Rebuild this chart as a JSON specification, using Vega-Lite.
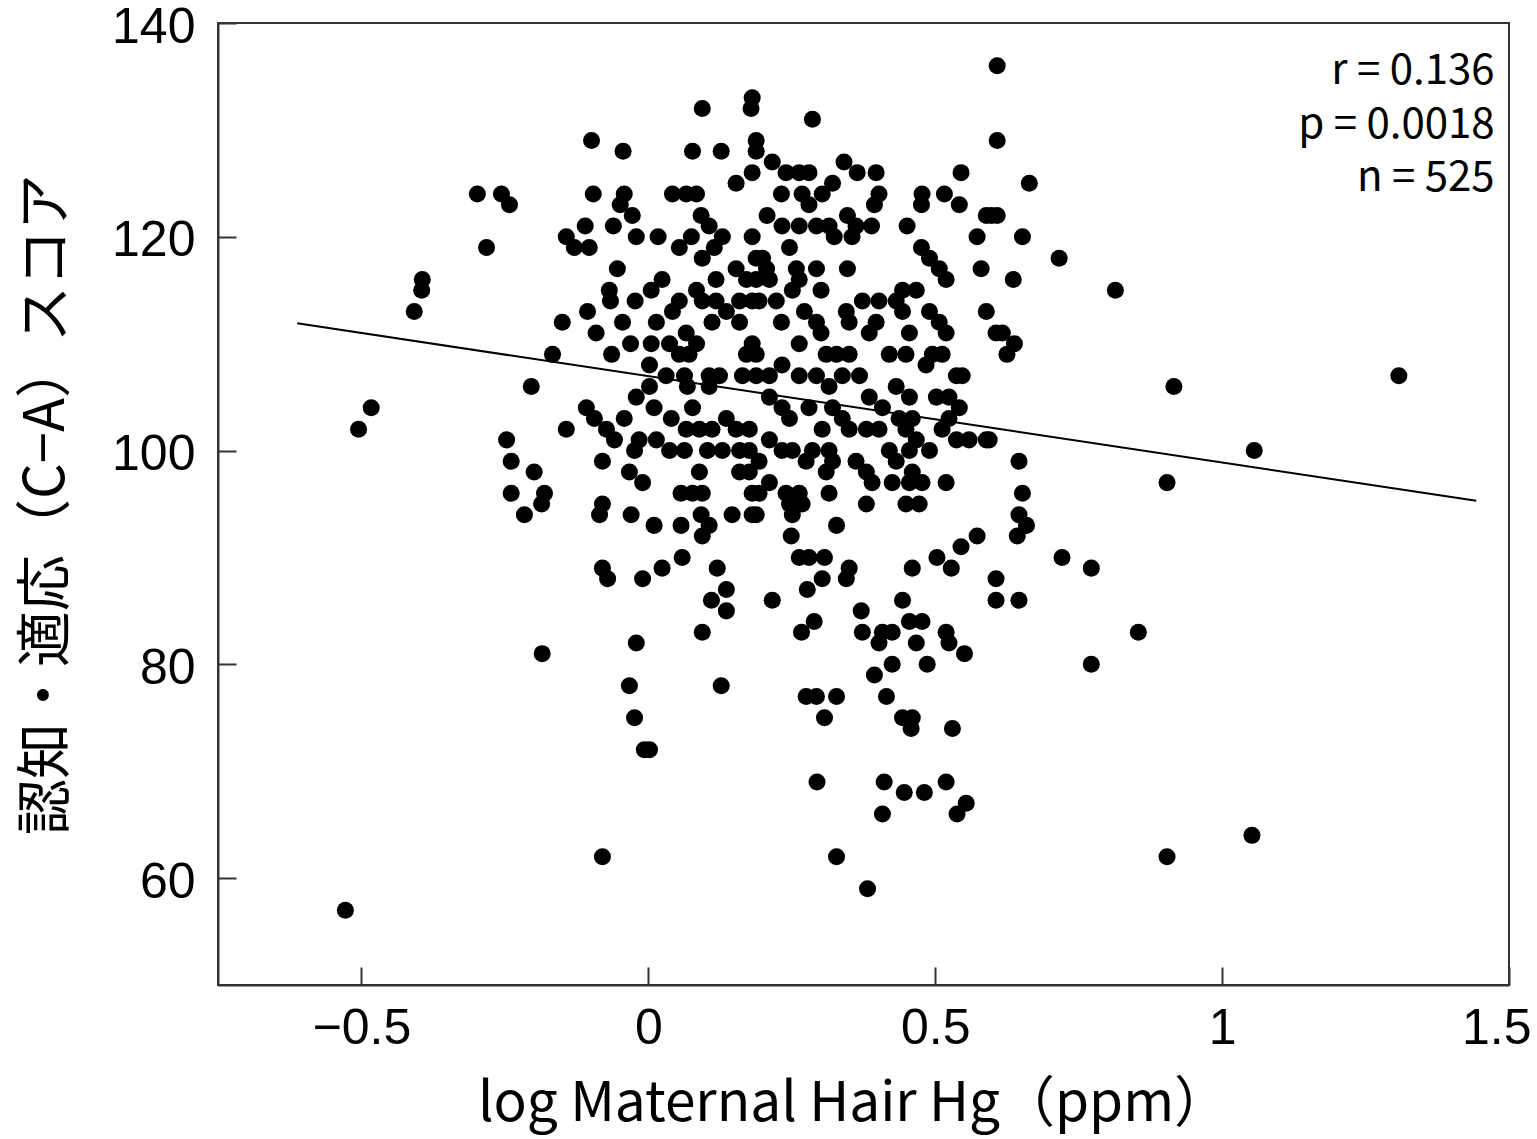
{
  "$schema": "https://vega.github.io/schema/vega-lite/v6.json",
  "autosize": "none",
  "width": 1291,
  "height": 962,
  "padding": {"left": 218, "top": 23, "right": 28, "bottom": 154},
  "background": "white",
  "config": {
    "view": {"stroke": "#333", "strokeWidth": 2},
    "axis": {
      "domainColor": "#333", "domainWidth": 2,
      "tickColor": "#333", "tickWidth": 2, "tickSize": -18,
      "grid": false,
      "labelFont": "Liberation Sans", "labelFontSize": 50, "labelColor": "#000",
      "titleFont": "Noto Sans CJK JP", "titleFontWeight": "normal", "titleColor": "#000"
    }
  },
  "datasets": {
    "pts": [
      {"hg":-0.528,"score":57},{"hg":-0.505,"score":102},{"hg":-0.483,"score":104},{"hg":-0.408,"score":113},{"hg":-0.395,"score":115},{"hg":-0.394,"score":116},{"hg":-0.298,"score":124},{"hg":-0.282,"score":119},{"hg":-0.256,"score":124},{"hg":-0.242,"score":123},
      {"hg":-0.247,"score":101},{"hg":-0.239,"score":99},{"hg":-0.239,"score":96},{"hg":-0.216,"score":94},{"hg":-0.204,"score":106},{"hg":-0.199,"score":98},{"hg":-0.185,"score":81},{"hg":-0.181,"score":96},{"hg":-0.186,"score":95},{"hg":-0.167,"score":109},
      {"hg":0.094,"score":132},{"hg":0.181,"score":133},{"hg":0.179,"score":132},{"hg":-0.099,"score":129},{"hg":-0.044,"score":128},{"hg":0.077,"score":128},{"hg":0.127,"score":128},{"hg":0.188,"score":129},{"hg":0.188,"score":128},{"hg":0.181,"score":126},
      {"hg":0.153,"score":125},{"hg":-0.096,"score":124},{"hg":-0.042,"score":124},{"hg":-0.049,"score":123},{"hg":-0.028,"score":122},{"hg":0.042,"score":124},{"hg":0.066,"score":124},{"hg":0.084,"score":124},{"hg":0.092,"score":122},{"hg":-0.110,"score":121},
      {"hg":-0.061,"score":121},{"hg":-0.143,"score":120},{"hg":-0.129,"score":119},{"hg":-0.103,"score":119},{"hg":-0.021,"score":120},{"hg":0.017,"score":120},{"hg":0.054,"score":119},{"hg":0.075,"score":120},{"hg":0.106,"score":121},{"hg":0.129,"score":120},
      {"hg":0.094,"score":118},{"hg":0.115,"score":119},{"hg":0.181,"score":120},{"hg":0.188,"score":118},{"hg":-0.054,"score":117},{"hg":0.118,"score":116},{"hg":0.153,"score":117},{"hg":0.171,"score":116},{"hg":0.024,"score":116},{"hg":0.005,"score":115},
      {"hg":-0.068,"score":115},{"hg":-0.066,"score":114},{"hg":-0.023,"score":114},{"hg":-0.106,"score":113},{"hg":0.084,"score":115},{"hg":0.054,"score":114},{"hg":0.042,"score":113},{"hg":0.094,"score":114},{"hg":0.118,"score":114},{"hg":0.136,"score":113},
      {"hg":0.159,"score":114},{"hg":0.181,"score":114},{"hg":-0.150,"score":112},{"hg":-0.045,"score":112},{"hg":0.014,"score":112},
      {"hg":-0.091,"score":111},{"hg":-0.031,"score":110},{"hg":0.005,"score":110},{"hg":0.037,"score":110},{"hg":0.066,"score":111},{"hg":0.084,"score":110},{"hg":0.054,"score":109},{"hg":0.071,"score":109},{"hg":0.111,"score":112},{"hg":0.159,"score":112},
      {"hg":0.171,"score":109},{"hg":0.181,"score":110},{"hg":-0.064,"score":109},{"hg":0.002,"score":108},{"hg":0.031,"score":107},{"hg":0.063,"score":107},{"hg":0.068,"score":106},{"hg":0.106,"score":107},{"hg":0.124,"score":107},{"hg":0.106,"score":106},
      {"hg":0.164,"score":107},{"hg":0.188,"score":107},{"hg":0.002,"score":106},{"hg":-0.021,"score":105},{"hg":0.010,"score":104},{"hg":0.077,"score":104},{"hg":-0.108,"score":104},{"hg":0.040,"score":103},{"hg":-0.094,"score":103},{"hg":-0.073,"score":102},
      {"hg":-0.059,"score":101},{"hg":-0.042,"score":103},{"hg":-0.143,"score":102},{"hg":0.066,"score":102},{"hg":0.089,"score":102},{"hg":0.111,"score":102},{"hg":0.136,"score":103},{"hg":0.153,"score":102},{"hg":0.176,"score":102},{"hg":-0.016,"score":101},
      {"hg":0.014,"score":101},{"hg":0.037,"score":100},{"hg":0.063,"score":100},{"hg":-0.024,"score":100},{"hg":0.103,"score":100},{"hg":0.129,"score":100},{"hg":0.159,"score":100},{"hg":0.176,"score":100},{"hg":-0.080,"score":99},{"hg":-0.033,"score":98},
      {"hg":-0.010,"score":97},{"hg":0.089,"score":98},{"hg":0.159,"score":98},{"hg":0.176,"score":98},{"hg":0.057,"score":96},{"hg":0.077,"score":96},{"hg":0.094,"score":96},{"hg":0.181,"score":96},{"hg":-0.080,"score":95},{"hg":-0.085,"score":94},
      {"hg":-0.030,"score":94},{"hg":0.010,"score":93},{"hg":0.057,"score":93},{"hg":0.092,"score":94},{"hg":0.106,"score":93},{"hg":0.094,"score":92},{"hg":0.146,"score":94},{"hg":0.181,"score":94},{"hg":0.059,"score":90},
      {"hg":-0.080,"score":89},{"hg":-0.071,"score":88},{"hg":-0.010,"score":88},{"hg":0.024,"score":89},{"hg":0.120,"score":89},{"hg":0.136,"score":87},{"hg":0.110,"score":86},{"hg":0.136,"score":85},{"hg":0.094,"score":83},{"hg":-0.021,"score":82},
      {"hg":-0.033,"score":78},{"hg":0.127,"score":78},{"hg":-0.024,"score":75},{"hg":-0.007,"score":72},{"hg":0.002,"score":72},{"hg":-0.080,"score":62},
      {"hg":0.608,"score":136},{"hg":0.286,"score":131},{"hg":0.608,"score":129},{"hg":0.216,"score":127},{"hg":0.341,"score":127},{"hg":0.240,"score":126},{"hg":0.263,"score":126},{"hg":0.280,"score":126},{"hg":0.321,"score":125},{"hg":0.364,"score":126},
      {"hg":0.397,"score":126},{"hg":0.545,"score":126},{"hg":0.232,"score":124},{"hg":0.268,"score":124},{"hg":0.280,"score":123},{"hg":0.303,"score":124},{"hg":0.402,"score":124},{"hg":0.394,"score":123},{"hg":0.477,"score":124},{"hg":0.476,"score":123},
      {"hg":0.516,"score":124},{"hg":0.542,"score":123},{"hg":0.207,"score":122},{"hg":0.233,"score":121},{"hg":0.263,"score":121},{"hg":0.293,"score":121},{"hg":0.315,"score":121},{"hg":0.347,"score":122},{"hg":0.362,"score":121},{"hg":0.389,"score":121},
      {"hg":0.451,"score":121},{"hg":0.589,"score":122},{"hg":0.608,"score":122},{"hg":0.246,"score":119},{"hg":0.324,"score":120},{"hg":0.355,"score":120},{"hg":0.476,"score":119},{"hg":0.490,"score":118},{"hg":0.507,"score":117},{"hg":0.519,"score":116},
      {"hg":0.573,"score":120},{"hg":0.199,"score":118},{"hg":0.206,"score":117},{"hg":0.258,"score":117},{"hg":0.293,"score":117},{"hg":0.347,"score":117},{"hg":0.580,"score":117},{"hg":0.188,"score":116},{"hg":0.211,"score":116},{"hg":0.263,"score":116},
      {"hg":0.301,"score":115},{"hg":0.373,"score":114},{"hg":0.443,"score":115},{"hg":0.467,"score":115},
      {"hg":0.193,"score":114},{"hg":0.223,"score":114},{"hg":0.251,"score":115},{"hg":0.232,"score":112},{"hg":0.272,"score":113},{"hg":0.293,"score":112},{"hg":0.301,"score":111},{"hg":0.345,"score":113},{"hg":0.350,"score":112},{"hg":0.402,"score":114},
      {"hg":0.432,"score":114},{"hg":0.443,"score":113},{"hg":0.455,"score":111},{"hg":0.490,"score":113},{"hg":0.507,"score":112},{"hg":0.519,"score":111},{"hg":0.589,"score":113},{"hg":0.606,"score":111},{"hg":0.188,"score":109},{"hg":0.263,"score":110},
      {"hg":0.397,"score":112},{"hg":0.385,"score":111},{"hg":0.310,"score":109},{"hg":0.328,"score":109},{"hg":0.350,"score":109},{"hg":0.420,"score":109},{"hg":0.449,"score":109},{"hg":0.495,"score":109},{"hg":0.512,"score":109},{"hg":0.537,"score":107},
      {"hg":0.211,"score":107},{"hg":0.233,"score":108},{"hg":0.263,"score":107},{"hg":0.293,"score":107},{"hg":0.315,"score":106},{"hg":0.338,"score":107},{"hg":0.368,"score":107},{"hg":0.432,"score":106},{"hg":0.455,"score":105},{"hg":0.484,"score":108},
      {"hg":0.547,"score":107},{"hg":0.211,"score":105},{"hg":0.233,"score":104},{"hg":0.246,"score":103},{"hg":0.280,"score":104},{"hg":0.321,"score":104},{"hg":0.338,"score":103},{"hg":0.350,"score":102},{"hg":0.385,"score":105},{"hg":0.408,"score":104},
      {"hg":0.380,"score":102},{"hg":0.402,"score":102},{"hg":0.437,"score":103},{"hg":0.460,"score":103},{"hg":0.449,"score":102},{"hg":0.502,"score":105},{"hg":0.524,"score":105},{"hg":0.542,"score":104},{"hg":0.524,"score":103},{"hg":0.512,"score":102},
      {"hg":0.537,"score":101},{"hg":0.559,"score":101},{"hg":0.589,"score":101},{"hg":0.211,"score":101},{"hg":0.233,"score":100},{"hg":0.303,"score":102},{"hg":0.251,"score":100},{"hg":0.275,"score":99},{"hg":0.286,"score":100},{"hg":0.193,"score":99},
      {"hg":0.315,"score":100},{"hg":0.321,"score":99},{"hg":0.310,"score":98},{"hg":0.362,"score":99},{"hg":0.380,"score":98},{"hg":0.390,"score":97},{"hg":0.420,"score":100},{"hg":0.432,"score":99},{"hg":0.455,"score":100},{"hg":0.467,"score":101},
      {"hg":0.490,"score":100},{"hg":0.460,"score":98},{"hg":0.193,"score":96},{"hg":0.211,"score":97},{"hg":0.240,"score":96},{"hg":0.263,"score":96},{"hg":0.268,"score":95},{"hg":0.246,"score":95},{"hg":0.315,"score":96},{"hg":0.380,"score":95},
      {"hg":0.425,"score":97},{"hg":0.455,"score":97},{"hg":0.477,"score":97},{"hg":0.449,"score":95},{"hg":0.472,"score":95},{"hg":0.519,"score":97},{"hg":0.328,"score":93},
      {"hg":0.188,"score":94},{"hg":0.251,"score":94},{"hg":0.249,"score":92},{"hg":0.263,"score":90},{"hg":0.280,"score":90},{"hg":0.307,"score":90},{"hg":0.303,"score":88},{"hg":0.277,"score":87},{"hg":0.350,"score":89},{"hg":0.345,"score":88},
      {"hg":0.216,"score":86},{"hg":0.460,"score":89},{"hg":0.503,"score":90},{"hg":0.528,"score":89},{"hg":0.545,"score":91},{"hg":0.573,"score":92},{"hg":0.606,"score":88},{"hg":0.606,"score":86},{"hg":0.443,"score":86},{"hg":0.371,"score":85},
      {"hg":0.289,"score":84},{"hg":0.267,"score":83},{"hg":0.373,"score":83},{"hg":0.408,"score":83},{"hg":0.425,"score":83},{"hg":0.402,"score":82},{"hg":0.455,"score":84},{"hg":0.477,"score":84},{"hg":0.467,"score":82},{"hg":0.519,"score":83},
      {"hg":0.524,"score":82},{"hg":0.551,"score":81},{"hg":0.425,"score":80},{"hg":0.486,"score":80},{"hg":0.394,"score":79},{"hg":0.415,"score":77},{"hg":0.275,"score":77},{"hg":0.293,"score":77},{"hg":0.328,"score":77},{"hg":0.307,"score":75},
      {"hg":0.443,"score":75},{"hg":0.460,"score":75},{"hg":0.458,"score":74},{"hg":0.530,"score":74},{"hg":0.294,"score":69},{"hg":0.411,"score":69},{"hg":0.446,"score":68},{"hg":0.481,"score":68},{"hg":0.519,"score":69},{"hg":0.554,"score":67},
      {"hg":0.538,"score":66},{"hg":0.408,"score":66},{"hg":0.328,"score":62},{"hg":0.382,"score":59},
      {"hg":0.664,"score":125},{"hg":0.598,"score":122},{"hg":0.652,"score":120},{"hg":0.716,"score":118},{"hg":0.636,"score":116},{"hg":0.814,"score":115},{"hg":0.617,"score":111},{"hg":0.638,"score":110},{"hg":0.625,"score":109},{"hg":0.916,"score":106},
      {"hg":1.308,"score":107},{"hg":0.594,"score":101},{"hg":0.646,"score":99},{"hg":1.056,"score":100},{"hg":0.904,"score":97},{"hg":0.652,"score":96},{"hg":0.646,"score":94},{"hg":0.659,"score":93},{"hg":0.643,"score":92},{"hg":0.721,"score":90},
      {"hg":0.772,"score":89},{"hg":0.646,"score":86},{"hg":0.854,"score":83},{"hg":0.772,"score":80},{"hg":1.052,"score":64},{"hg":0.904,"score":62}
    ],
    "fit": [
      {"hg": -0.612, "score": 111.9},
      {"hg": 1.443, "score": 95.3}
    ]
  },
  "layer": [
    {
      "data": {"name": "pts"},
      "mark": {"type": "circle", "color": "#000", "opacity": 1, "size": 290},
      "encoding": {
        "x": {
          "field": "hg", "type": "quantitative",
          "scale": {"domain": [-0.75, 1.5], "nice": false, "zero": false},
          "axis": {"values": [-0.5, 0, 0.5, 1, 1.5], "format": "~f", "labelPadding": 36, "labelFlush": true, "labelFlushOffset": 22, "title": "log Maternal Hair Hg（ppm）", "titleFontSize": 55, "titlePadding": 24, "titleX": 635}
        },
        "y": {
          "field": "score", "type": "quantitative",
          "scale": {"domain": [50, 140], "nice": false, "zero": false},
          "axis": {"values": [60, 80, 100, 120, 140], "format": "d", "labelPadding": 41, "labelOffset": 4, "labelFlush": false, "title": "認知・適応（C−A）スコア", "titleFontSize": 56, "titlePadding": 36}
        }
      }
    },
    {
      "data": {"name": "fit"},
      "mark": {"type": "line", "color": "#000", "strokeWidth": 2},
      "encoding": {
        "x": {"field": "hg", "type": "quantitative"},
        "y": {"field": "score", "type": "quantitative"}
      }
    },
    {
      "data": {"values": [{}]},
      "mark": {"type": "text", "align": "right", "baseline": "middle", "font": "Noto Sans CJK JP", "fontSize": 42, "lineHeight": 53.5, "color": "#000"},
      "encoding": {
        "x": {"datum": 1.475, "type": "quantitative"},
        "y": {"datum": 135.5, "type": "quantitative"},
        "text": {"value": ["r = 0.136", "p = 0.0018", "n = 525"]}
      }
    }
  ]
}
